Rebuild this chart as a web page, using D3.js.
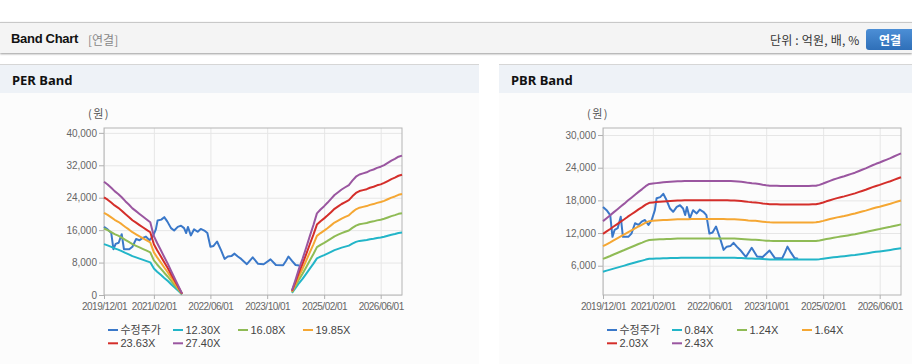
<!DOCTYPE html>
<html>
<head>
<meta charset="utf-8">
<script src="https://cdn.jsdelivr.net/npm/d3@7"></script>
<style>
body { margin: 0; width: 912px; height: 364px; overflow: hidden; background: #fff; position: relative;
       font-family: "Liberation Sans", Arial, "Noto Sans CJK KR", sans-serif; }
.topbar { position: absolute; left: 0; top: 22px; width: 912px; height: 30px; background: #f4f4f4;
          border-top: 1px solid #c8c8c8; box-shadow: 0 1px 2px #9a9a9a; }
.topbar .title { position: absolute; left: 11px; top: 8px; font-size: 13px; font-weight: bold; color: #111; letter-spacing: -0.3px; }
.topbar .sub { position: absolute; left: 88px; top: 8px; font-size: 12px; color: #888; font-family: "Noto Sans CJK KR", sans-serif; }
.topbar .unit { position: absolute; left: 770px; top: 8px; font-size: 12px; color: #333; font-family: "Noto Sans CJK KR", sans-serif; letter-spacing: 0.2px; }
.topbar .btn { position: absolute; left: 866px; top: 6px; width: 50px; height: 21px; border-radius: 3px;
               background: linear-gradient(#4c8fd6, #2f6fb8); color: #fff; font-size: 12px; font-weight: bold;
               line-height: 21px; text-indent: 13px; font-family: "Noto Sans CJK KR", sans-serif; }
.panel { position: absolute; top: 64px; height: 300px; background: #fcfcfc; border-top: 1px solid #d6d6d6; }
.panel .head { height: 28px; background: #eef2f7; }
.panel .head span { position: absolute; left: 12px; top: 6px; font-family: "Noto Sans", sans-serif; font-size: 13px; font-weight: bold; color: #111; }
svg { position: absolute; left: 0; top: 0; }
.grid line { stroke: #e6e6e6; }
.grid path { display: none; }
.axis path { display: none; }
.axis line { stroke: #b0b0b0; }
.axis text { fill: #666; font-size: 10px; font-family: "Liberation Sans", Arial, sans-serif; }
.xaxis text { letter-spacing: -0.5px; }
</style>
</head>
<body>
<div class="topbar">
  <span class="title">Band Chart</span>
  <span class="sub">[연결]</span>
  <span class="unit">단위 : 억원, 배, %</span>
  <div class="btn">연결</div>
</div>
<div class="panel" style="left:0;width:479px"><div class="head"><span>PER Band</span></div></div>
<div class="panel" style="left:499px;width:413px"><div class="head"><span>PBR Band</span></div></div>
<svg id="chart" width="912" height="364"></svg>
<script>
// months 2019/12 .. 2026/12
const months = d3.timeMonth.range(new Date(2019, 11, 1), new Date(2027, 0, 1));
const xTickLabels = ["2019/12/01", "2021/02/01", "2022/06/01", "2023/10/01", "2025/02/01", "2026/06/01"];

const perMultiples = [12.30, 16.08, 19.85, 23.63, 27.40];
const pbrMultiples = [0.84, 1.24, 1.64, 2.03, 2.43];

const perTicks = [0, 8000, 16000, 24000, 32000, 40000];
const pbrTicks = [6000, 12000, 18000, 24000, 30000];

// EPS per month (band = multiple x EPS), null where EPS is negative
const epsValues = [1020, 995, 965, 935, 910, 880, 845, 815, 780, 755, 730, 705, 680, 655, 530, 468,
  405, 342, 280, 212, 145, 78, 12,
  null, null, null, null, null, null, null, null, null, null, null, null, null, null, null,
  null, null, null, null, null, null, null, null, null, null, null, null, null, null, null,
  42, 140, 240, 330, 430, 530, 630, 735, 770, 800, 830, 865, 900, 925, 950, 970, 990, 1030,
  1065, 1085, 1095, 1105, 1120, 1130, 1145, 1155, 1170, 1190, 1210, 1225, 1245, 1255];

// BPS per month
const bpsValues = [5840, 6060, 6280, 6500, 6720, 6940, 7160, 7390, 7610, 7830, 8050, 8260, 8480, 8650,
  8680, 8710, 8740, 8770, 8790, 8810, 8830, 8850, 8860, 8870,
  8870, 8875, 8880, 8880, 8880, 8880, 8880, 8880, 8880, 8880, 8875, 8870, 8865, 8860, 8840, 8810,
  8770, 8730, 8700, 8680, 8640, 8590, 8550, 8520, 8510, 8505, 8500, 8500, 8500, 8500, 8500, 8500,
  8500, 8500, 8500, 8505, 8515,
  8580, 8680, 8780, 8880, 8980, 9070, 9150, 9230, 9320, 9410, 9500, 9610, 9720, 9830, 9940,
  10060, 10170, 10270, 10380, 10490, 10600, 10720, 10840, 10960];

// 수정주가
const priceDates = ["2019-12-01", "2020-01-01", "2020-02-01", "2020-02-20", "2020-03-10", "2020-04-05",
  "2020-05-01", "2020-05-20", "2020-07-05", "2020-08-01", "2020-09-01", "2020-10-01", "2020-10-28",
  "2020-11-25", "2020-12-25", "2021-01-22", "2021-02-18", "2021-03-05", "2021-04-05", "2021-05-01",
  "2021-05-28", "2021-06-28", "2021-07-25", "2021-08-25", "2021-09-22", "2021-10-18", "2021-11-05",
  "2021-11-20", "2021-12-15", "2022-01-12", "2022-02-12", "2022-03-10", "2022-04-10", "2022-05-06",
  "2022-06-01", "2022-06-28", "2022-07-28", "2022-09-01", "2022-10-01", "2022-10-28", "2022-11-28",
  "2022-12-25", "2023-01-22", "2023-02-20", "2023-04-10", "2023-05-30", "2023-07-15", "2023-09-01",
  "2023-10-30", "2023-12-15", "2024-02-15", "2024-03-10", "2024-04-01", "2024-05-01", "2024-06-01",
  "2024-07-01"];
const priceValues = [16800, 16200, 15300, 11300, 12600, 12900, 15000, 11300, 11300, 11900, 13800, 13500,
  14100, 14400, 13500, 14400, 16200, 18400, 18600, 19200, 18100, 16500, 15900, 16800, 17100, 16500,
  15300, 16800, 14700, 16200, 15600, 16300, 15900, 15300, 11900, 12100, 13200, 11000, 8900, 9500,
  9600, 10200, 9500, 8900, 7600, 9300, 7700, 7600, 8800, 7400, 7350, 8400, 9500, 8400, 7400, 7300];

const priceColor = "#3a78c9";
const bandColors = ["#22b5c8", "#8fbb55", "#f5a733", "#d42e2a", "#9a56a0"];

const svg = d3.select("#chart");
const plotTop = 128, plotW = 298, plotH = 167;
const parseTick = d3.timeParse("%Y/%m/%d");
const parseDay = d3.timeParse("%Y-%m-%d");
const xTicks = xTickLabels.map(parseTick);

const price = priceDates.map((d, i) => ({date: parseDay(d), value: priceValues[i]}));

function drawBand(left, base, multiples, yDomain, yTicks) {
  const g = svg.append("g").attr("transform", `translate(${left},${plotTop})`);
  const x = d3.scaleTime().domain([months[0], months[months.length - 1]]).range([0, plotW]);
  const y = d3.scaleLinear().domain(yDomain).range([plotH, 0]);

  // gridlines
  g.append("g").attr("class", "grid")
    .call(d3.axisLeft(y).tickValues(yTicks).tickSize(-plotW).tickFormat(""));
  g.append("g").attr("class", "grid")
    .call(d3.axisBottom(x).tickValues(xTicks).tickSize(plotH).tickFormat(""));

  g.append("rect").attr("width", plotW).attr("height", plotH)
    .attr("fill", "none").attr("stroke", "#b4b4b4");

  g.append("g").attr("class", "axis")
    .call(d3.axisLeft(y).tickValues(yTicks).tickSize(5).tickPadding(2).tickFormat(d3.format(",")));
  g.append("g").attr("class", "axis xaxis").attr("transform", `translate(0,${plotH})`)
    .call(d3.axisBottom(x).tickValues(xTicks).tickSize(4).tickPadding(4).tickFormat(d3.timeFormat("%Y/%m/%d")));

  g.append("text").attr("x", -5).attr("y", -10).attr("text-anchor", "middle")
    .attr("font-size", 11).attr("fill", "#555").attr("letter-spacing", "1.5px")
    .attr("font-family", "'Noto Sans CJK KR', sans-serif").text("(원)");

  const line = d3.line()
    .defined(d => d.value != null)
    .x(d => x(d.date)).y(d => y(d.value));

  g.append("path").datum(price).attr("d", line)
    .attr("fill", "none").attr("stroke", priceColor).attr("stroke-width", 2).attr("stroke-linejoin", "round");

  multiples.forEach((m, k) => {
    const pts = months.map((d, i) => ({date: d, value: base[i] == null ? null : base[i] * m}));
    g.append("path").datum(pts).attr("d", line)
      .attr("fill", "none").attr("stroke", bandColors[k]).attr("stroke-width", 2).attr("stroke-linejoin", "round");
  });

  // legend
  const names = ["수정주가"].concat(multiples.map(m => m.toFixed(2) + "X"));
  const colors = [priceColor].concat(bandColors);
  const lg = g.append("g").attr("transform", `translate(4, ${330 - plotTop})`);
  names.forEach((n, i) => {
    const col = i % 4, row = Math.floor(i / 4);
    const it = lg.append("g").attr("transform", `translate(${col * 65}, ${row * 13.3})`);
    it.append("line").attr("x1", 0).attr("x2", 10).attr("stroke", colors[i]).attr("stroke-width", 2);
    it.append("text").attr("x", 12.5).attr("dy", "0.35em").attr("font-size", 11).attr("fill", "#444")
      .attr("font-family", "'Liberation Sans', Arial, 'Noto Sans CJK KR', sans-serif").text(n);
  });
}

drawBand(104, epsValues, perMultiples, [0, 41200], perTicks);
drawBand(603, bpsValues, pbrMultiples, [620, 31290], pbrTicks);
</script>
</body>
</html>
